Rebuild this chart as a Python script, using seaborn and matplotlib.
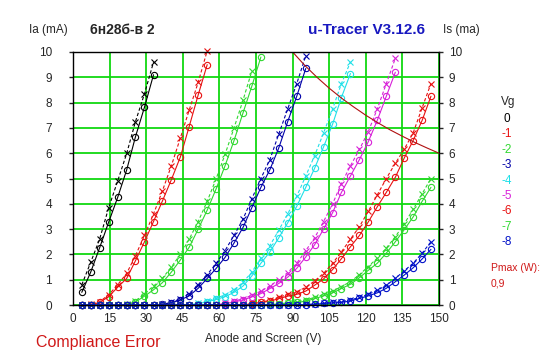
import numpy as np
import pandas as pd
import matplotlib
matplotlib.use("Agg")
import matplotlib.pyplot as plt
import seaborn as sns

# anode / screen sweep voltages (V)
va = [3.6, 7.3, 10.9, 14.6, 18.3, 22.0, 25.6, 29.3, 33.0, 36.6,
      40.3, 44.0, 47.6, 51.3, 55.0, 58.7, 62.3, 66.0, 69.7, 73.3,
      77.0, 80.7, 84.3, 88.0, 91.7, 95.4, 99.0, 102.7, 106.4, 110.0,
      113.7, 117.4, 121.0, 124.7, 128.4, 132.1, 135.7, 139.4, 143.1, 146.7]

vg_labels = ["0", "-1", "-2", "-3", "-4", "-5", "-6", "-7", "-8"]
colors = ["#000000", "#E81010", "#30D830", "#0000A8", "#20E0E8",
          "#D820D8", "#E81010", "#30D830", "#0010C8"]

# anode current Ia (mA), one list per grid voltage
ia_0 = [0.5, 1.31, 2.26, 3.27, 4.25, 5.34, 6.65, 7.82, 9.1]
ia_1 = [0, 0, 0.1, 0.33, 0.7, 1.05, 1.75, 2.5, 3.3, 4.1,
        4.95, 5.85, 7.05, 8.3, 9.5]
ia_2 = [0, 0, 0, 0, 0, 0, 0.12, 0.35, 0.6, 0.88,
        1.3, 1.78, 2.28, 3.0, 3.75, 4.6, 5.5, 6.5, 7.6, 8.65,
        9.8]
ia_3 = [0, 0, 0, 0, 0, 0, 0, 0, 0, 0.02,
        0.08, 0.2, 0.36, 0.66, 1.05, 1.45, 1.88, 2.45, 3.07, 3.85,
        4.65, 5.35, 6.2, 7.25, 8.25, 9.35]
ia_4 = [0, 0, 0, 0, 0, 0, 0, 0, 0, 0,
        0, 0, 0, 0.05, 0.13, 0.22, 0.33, 0.5, 0.75, 1.15,
        1.65, 2.1, 2.65, 3.25, 3.9, 4.65, 5.4, 6.25, 7.15, 8.2,
        9.15]
ia_5 = [0, 0, 0, 0, 0, 0, 0, 0, 0, 0,
        0, 0, 0, 0, 0, 0, 0.05, 0.12, 0.2, 0.32,
        0.45, 0.65, 0.85, 1.1, 1.45, 1.9, 2.38, 3.0, 3.65, 4.45,
        5.1, 5.75, 6.45, 7.3, 8.25, 9.2]
ia_6 = [0, 0, 0, 0, 0, 0, 0, 0, 0, 0,
        0, 0, 0, 0, 0, 0, 0, 0, 0, 0.05,
        0.1, 0.15, 0.25, 0.35, 0.42, 0.55, 0.78, 1.03, 1.4, 1.83,
        2.3, 2.75, 3.28, 3.88, 4.45, 5.05, 5.8, 6.5, 7.3, 8.25]
ia_7 = [0, 0, 0, 0, 0, 0, 0, 0, 0, 0,
        0, 0, 0, 0, 0, 0, 0, 0, 0, 0,
        0, 0.02, 0.04, 0.06, 0.1, 0.15, 0.25, 0.36, 0.48, 0.65,
        0.82, 1.08, 1.37, 1.65, 2.05, 2.5, 2.97, 3.48, 4.1, 4.65]
ia_8 = [0, 0, 0, 0, 0, 0, 0, 0, 0, 0,
        0, 0, 0, 0, 0, 0, 0, 0, 0, 0,
        0, 0, 0, 0, 0, 0.01, 0.03, 0.06, 0.08, 0.1,
        0.16, 0.26, 0.36, 0.48, 0.66, 0.92, 1.18, 1.47, 1.82, 2.2]

# screen current Is (mA)
is_0 = [0.8, 1.7, 2.6, 3.84, 4.9, 5.99, 7.25, 8.35, 9.6]
is_1 = [0, 0.02, 0.13, 0.4, 0.8, 1.25, 1.95, 2.75, 3.6, 4.5,
        5.5, 6.6, 7.7, 8.8, 10.05]
is_2 = [0, 0, 0, 0, 0, 0.03, 0.15, 0.45, 0.75, 1.05,
        1.5, 2.0, 2.6, 3.3, 4.1, 5.0, 5.95, 7.0, 8.1, 9.25]
is_3 = [0, 0, 0, 0, 0, 0, 0, 0, 0, 0.03,
        0.1, 0.25, 0.45, 0.8, 1.2, 1.65, 2.15, 2.75, 3.4, 4.2,
        5.0, 5.75, 6.75, 7.75, 8.75, 9.85]
is_4 = [0, 0, 0, 0, 0, 0, 0, 0, 0, 0,
        0, 0, 0, 0.06, 0.15, 0.27, 0.4, 0.6, 0.9, 1.3,
        1.85, 2.35, 2.95, 3.6, 4.3, 5.1, 5.9, 6.8, 7.75, 8.75,
        9.6]
is_5 = [0, 0, 0, 0, 0, 0, 0, 0, 0, 0,
        0, 0, 0, 0, 0, 0, 0.07, 0.15, 0.25, 0.38,
        0.55, 0.75, 1.0, 1.28, 1.65, 2.15, 2.65, 3.3, 4.0, 4.8,
        5.5, 6.15, 6.85, 7.75, 8.75, 9.75]
is_6 = [0, 0, 0, 0, 0, 0, 0, 0, 0, 0,
        0, 0, 0, 0, 0, 0, 0, 0, 0, 0.06,
        0.12, 0.18, 0.3, 0.42, 0.52, 0.7, 0.95, 1.25, 1.65, 2.1,
        2.6, 3.1, 3.7, 4.35, 5.0, 5.6, 6.15, 6.8, 7.8, 8.75]
is_7 = [0, 0, 0, 0, 0, 0, 0, 0, 0, 0,
        0, 0, 0, 0, 0, 0, 0, 0, 0, 0,
        0, 0.03, 0.05, 0.08, 0.13, 0.2, 0.3, 0.42, 0.55, 0.73,
        0.92, 1.2, 1.52, 1.85, 2.25, 2.7, 3.2, 3.78, 4.4, 5.0]
is_8 = [0, 0, 0, 0, 0, 0, 0, 0, 0, 0,
        0, 0, 0, 0, 0, 0, 0, 0, 0, 0,
        0, 0, 0, 0, 0, 0.02, 0.04, 0.08, 0.1, 0.13,
        0.2, 0.3, 0.42, 0.58, 0.78, 1.05, 1.35, 1.65, 2.05, 2.5]

ia_all = [ia_0, ia_1, ia_2, ia_3, ia_4, ia_5, ia_6, ia_7, ia_8]
is_all = [is_0, is_1, is_2, is_3, is_4, is_5, is_6, is_7, is_8]

# Pmax = 0.9 W limit line
pmax_v = [90, 95, 100, 105, 110, 115, 120, 125, 130, 135, 140, 145, 150]
pmax_i = [10.0, 9.47, 9.0, 8.57, 8.18, 7.83, 7.5, 7.2, 6.92, 6.67, 6.43, 6.21, 6.0]

sns.set_style("white")
plt.rcParams["font.family"] = ["Liberation Sans", "DejaVu Sans"]

W, H = 547, 357
fig = plt.figure(figsize=(W / 100, H / 100), dpi=100)
ax = fig.add_axes([73 / W, 52 / H, 366 / W, 253 / H])

for c, ia, is_ in zip(colors, ia_all, is_all):
    d_s = pd.DataFrame({"V": va[:len(is_)], "I": is_})
    d_a = pd.DataFrame({"V": va[:len(ia)], "I": ia})
    sns.lineplot(data=d_s, x="V", y="I", color=c, marker="x", linestyle=(0, (3, 2)),
                 lw=0.8, ms=4, mec=c, mew=0.8, estimator=None, sort=False,
                 clip_on=False, ax=ax)
    sns.lineplot(data=d_a, x="V", y="I", color=c, marker="o", mfc="none",
                 lw=0.8, ms=4.5, mec=c, mew=0.8, estimator=None, sort=False,
                 clip_on=False, ax=ax)

sns.lineplot(x=pmax_v, y=pmax_i, color="#B01010", lw=0.8, ax=ax)

ax.set_xlim(0, 150)
ax.set_ylim(0, 10)
ax.set_xticks(range(0, 151, 15))
ax.set_yticks(range(0, 11))
ax.grid(True, color="#10D810", lw=1.3)
ax.set_axisbelow(True)
ax.set_xlabel("")
ax.set_ylabel("")
for s in ax.spines.values():
    s.set_color("black")
    s.set_linewidth(1)
ax.tick_params(axis="y", direction="out", length=3, width=1, labelsize=8.5, pad=12)
ax.tick_params(axis="x", direction="out", length=3, width=1, labelsize=8.5, pad=3)

ax2 = ax.twinx()
ax2.set_ylim(0, 10)
ax2.set_yticks(range(0, 11))
ax2.grid(False)
for s in ax2.spines.values():
    s.set_visible(False)
ax2.tick_params(axis="y", direction="out", length=3, width=1, labelsize=8.5, pad=4)


def px(x, y):
    return x / W, 1 - y / H


fig.text(*px(48, 30), "Ia (mA)", fontsize=8.5, ha="center", va="center")
fig.text(*px(90, 30), "6н28б-в 2", fontsize=10, fontweight="bold", ha="left", va="center")
fig.text(*px(367, 30), "u-Tracer V3.12.6", fontsize=11, fontweight="bold",
         color="#1818C0", ha="center", va="center")
fig.text(*px(461, 30), "Is (ma)", fontsize=8.5, ha="center", va="center")
fig.text(*px(263, 339), "Anode and Screen (V)", fontsize=8.5, ha="center", va="center")
fig.text(*px(36, 342), "Compliance Error", fontsize=11.5, color="#D01818",
         ha="left", va="center")

fig.text(*px(508, 102), "Vg", fontsize=8.5, ha="center", va="center")
for k, (lab, c) in enumerate(zip(vg_labels, colors)):
    fig.text(*px(507, 119 + 15.4 * k), lab, fontsize=8.5, color=c, ha="center", va="center")
fig.text(*px(491, 268), "Pmax (W):", fontsize=7.5, color="#D01818", ha="left", va="center")
fig.text(*px(491, 283), "0,9", fontsize=7.5, color="#D01818", ha="left", va="center")

fig.savefig("out.png", dpi=100, facecolor="white")
